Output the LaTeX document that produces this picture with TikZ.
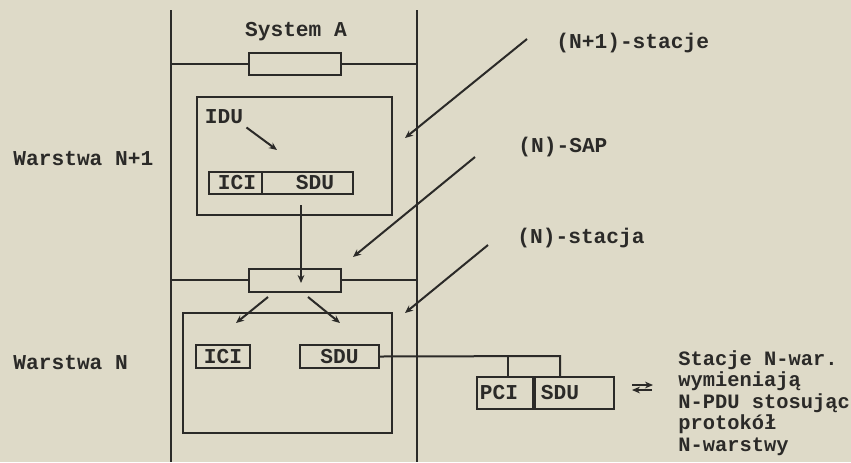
\documentclass[tikz,border=0pt]{standalone}
\usepackage{fontspec}
\setmonofont{Liberation Mono}
\usetikzlibrary{arrows.meta, positioning}
\definecolor{paper}{HTML}{DEDAC8}
\definecolor{ink}{HTML}{2B2A28}

\begin{document}
\begin{tikzpicture}[x=0.5pt, y=-0.5pt, >={Stealth[length=4pt, width=3.4pt]},
  every node/.style={text=ink, inner sep=1.5pt, font=\ttfamily\bfseries\fontsize{10.6}{10.6}\selectfont},
  frame/.style={draw=ink, line width=1pt, inner sep=0pt},
  wire/.style={draw=ink, line width=1pt},
  pointer/.style={draw=ink, line width=1pt, ->}]

% Background
\fill[paper] (0,0) rectangle (851,462);
\useasboundingbox (0,0) rectangle (851,462);

% System A frame
\draw[wire] (171,10) -- (171,462);
\draw[wire] (417,10) -- (417,462);
\node (sysA) at (296,32) {System A};

% (N+1)-SAP
\node[frame, minimum width=46pt, minimum height=11pt] (sapTop) at (295,64) {};
\draw[wire] (171,64) -- (sapTop.west);
\draw[wire] (sapTop.east) -- (417,64);

% (N+1)-stacja
\node[frame, minimum width=97.5pt, minimum height=59pt] (entUp) at (294.5,156) {};
\node (idu) at (224,117) {IDU};
\coordinate (iduEnd) at (277,150);
\draw[pointer] (idu.south east) -- (iduEnd);
\node[frame, minimum width=72pt, minimum height=11pt] (pduUp) at (281,183) {};
\draw[wire] (262,172) -- (262,194);
\node (iciUp) at (237,183) {ICI};
\node (sduUp) at (315,183) {SDU};

% (N)-SAP
\node[frame, minimum width=46pt, minimum height=11.5pt] (sapMid) at (295,280) {};
\draw[wire] (171,280) -- (sapMid.west);
\draw[wire] (sapMid.east) -- (417,280);
\coordinate (dropTop) at (301,205);
\coordinate (dropEnd) at (301,283);
\draw[pointer] (dropTop) -- (dropEnd);

% (N)-stacja
\node[frame, minimum width=104.5pt, minimum height=60pt] (entN) at (287.5,373) {};
\coordinate (splitL) at (268,297);
\coordinate (splitR) at (308,297);
\coordinate (tipL) at (236,323);
\coordinate (tipR) at (340,323);
\draw[pointer] (splitL) -- (tipL);
\draw[pointer] (splitR) -- (tipR);
\node[frame, minimum width=27pt, minimum height=11.5pt] (iciN) at (223,356.5) {ICI};
\node[frame, minimum width=39.5pt, minimum height=11.5pt] (sduN) at (339.5,356.5) {SDU};

% N-PDU
\node[frame, minimum width=28pt, minimum height=16pt] (pciP) at (505,393) {};
\node[frame, minimum width=39.5pt, minimum height=16pt, right=0pt of pciP] (sduP) {};
\node (pciT) at (499,393) {PCI};
\node (sduT) at (560,393) {SDU};
\coordinate (linkEnd) at (560,356);
\coordinate (linkMid) at (508,356);
\draw[wire] (sduN.east) -- (linkEnd) -- (linkEnd |- sduP.north);
\draw[wire] (linkMid) -- (linkMid |- pciP.north);

% exchange
\coordinate (xa) at (632,385);
\coordinate (xb) at (653,385);
\coordinate (xc) at (652,390);
\coordinate (xd) at (632,390);
\draw[pointer] (xa) -- (xb);
\draw[pointer] (xc) -- (xd);
\node[anchor=north west, align=left, inner sep=0pt,
  font=\ttfamily\bfseries\fontsize{10.2}{10.8}\selectfont] (note) at (678,350)
  {Stacje N-war.\\wymieniają\\N-PDU stosując\\protokół\\N-warstwy};

% Callouts
\node[anchor=west] (lblStA) at (553,43) {(N+1)-stacje};
\node[anchor=west] (lblSap) at (515,147) {(N)-SAP};
\node[anchor=west] (lblStN) at (514,238) {(N)-stacja};
\coordinate (tipStA) at (405,138);
\coordinate (tipSap) at (353,257);
\coordinate (tipStN) at (405,313);
\draw[pointer] ([shift={(-26,-4)}]lblStA.west) -- (tipStA);
\draw[pointer] ([shift={(-40,10)}]lblSap.west) -- (tipSap);
\draw[pointer] ([shift={(-26,7)}]lblStN.west) -- (tipStN);

% Layers
\node[anchor=west] (layUp) at (10,159) {Warstwa N+1};
\node[anchor=west] (layN) at (10,363) {Warstwa N};

\end{tikzpicture}
\end{document}
